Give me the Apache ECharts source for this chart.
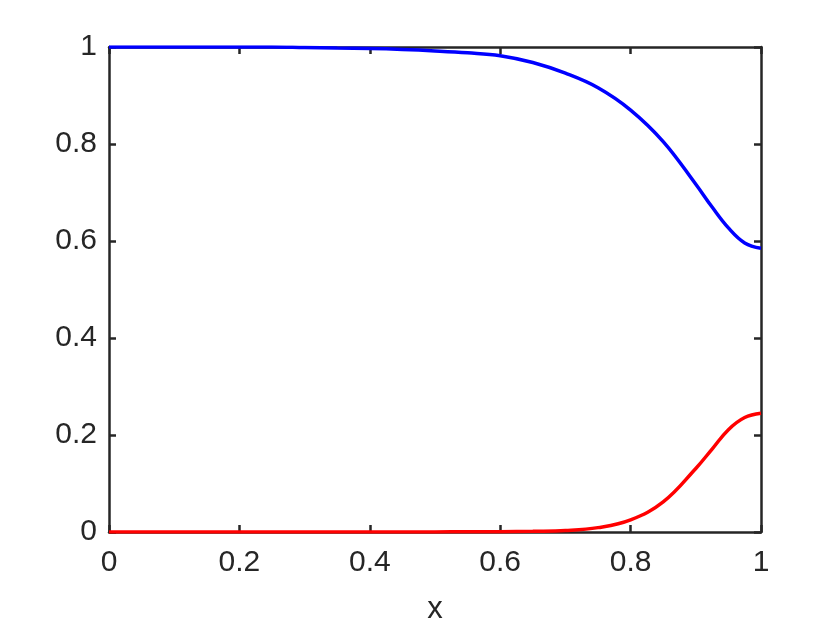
<!DOCTYPE html>
<html><head><meta charset="utf-8">
<script src="https://cdn.jsdelivr.net/npm/echarts@6/dist/echarts.min.js"></script>
<style>html,body{margin:0;padding:0;background:#fff}#c{width:840px;height:630px}</style>
</head><body><div id="c"></div>
<script>
const xTicks = [0, 0.2, 0.4, 0.6, 0.8, 1];
const yTicks = [0, 0.2, 0.4, 0.6, 0.8, 1];
const blueX = [0, 0.05, 0.1, 0.15, 0.2, 0.25, 0.3, 0.35, 0.4, 0.45, 0.5, 0.55, 0.6, 0.65, 0.7, 0.75, 0.8, 0.85, 0.9, 0.925, 0.95, 0.975, 1];
const blueY = [1, 1, 1, 1, 1, 1, 0.999, 0.998, 0.997, 0.995, 0.992, 0.988, 0.982, 0.968, 0.946, 0.916, 0.870, 0.805, 0.717, 0.670, 0.627, 0.596, 0.585];
const redX = [0, 0.05, 0.1, 0.15, 0.2, 0.25, 0.3, 0.35, 0.4, 0.45, 0.5, 0.55, 0.6, 0.65, 0.7, 0.75, 0.8, 0.85, 0.9, 0.925, 0.95, 0.975, 1];
const redY = [0, 0, 0, 0, 0, 0, 0, 0, 0, 0, 0.0002, 0.0004, 0.0007, 0.0015, 0.003, 0.009, 0.025, 0.062, 0.131, 0.171, 0.211, 0.236, 0.245];

const chart = echarts.init(document.getElementById('c'));
const axCol = '#262626';
const font = 'Arial, "Liberation Sans", Helvetica, sans-serif';
function zip(a, b) { return a.map((v, i) => [v, b[i]]); }
function fmt(list) {
  return v => { const r = Math.round(v * 10) / 10; return list.includes(r) ? String(r) : ''; };
}
const baseAxis = {
  type: 'value', min: 0, max: 1, interval: 0.2,
  axisLine: { show: true, onZero: false, lineStyle: { color: axCol, width: 2.5 } },
  axisTick: { show: true, inside: true, length: 7, lineStyle: { color: axCol, width: 2.5 } },
  splitLine: { show: false }
};
chart.setOption({
  animation: false,
  backgroundColor: '#fff',
  grid: { left: 109, right: 79, top: 47, bottom: 98, containLabel: false, outerBoundsMode: 'none' },
  xAxis: [
    Object.assign({}, baseAxis, {
      position: 'bottom', name: 'x', nameLocation: 'middle', nameGap: 62,
      nameTextStyle: { color: axCol, fontSize: 31, fontFamily: font },
      axisLabel: { color: axCol, fontSize: 30, fontFamily: font, margin: 16, formatter: fmt(xTicks) }
    }),
    Object.assign({}, baseAxis, { position: 'top', axisLabel: { show: false } })
  ],
  yAxis: [
    Object.assign({}, baseAxis, {
      position: 'left',
      axisLabel: { color: axCol, fontSize: 30, fontFamily: font, margin: 12, formatter: fmt(yTicks) }
    }),
    Object.assign({}, baseAxis, { position: 'right', axisLabel: { show: false } })
  ],
  series: [
    { type: 'line', data: zip(blueX, blueY), smooth: 0.4, showSymbol: false,
      lineStyle: { color: '#0000ff', width: 3.5 }, z: 3 },
    { type: 'line', data: zip(redX, redY), smooth: 0.4, showSymbol: false,
      lineStyle: { color: '#ff0000', width: 3.5 }, z: 3 }
  ]
});
</script></body></html>
